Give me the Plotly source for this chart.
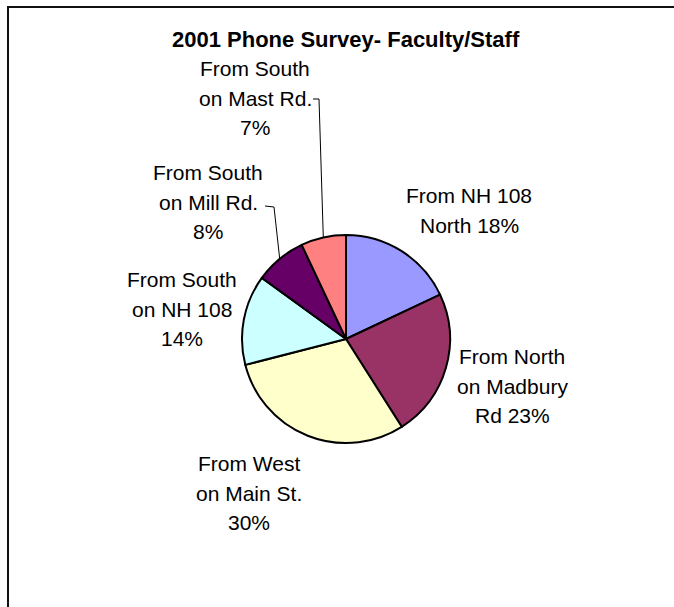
import math
import plotly.graph_objects as go

# Survey categories (clockwise from 12 o'clock) and their shares in percent
categories = [
    "From NH 108\nNorth",
    "From North\non Madbury\nRd",
    "From West\non Main St.",
    "From South\non NH 108",
    "From South\non Mill Rd.",
    "From South\non Mast Rd.",
]
shares = [18, 23, 30, 14, 8, 7]
pct_on_last_line = [True, True, False, False, False, False]
colors = ["#9999FF", "#993366", "#FFFFCC", "#CCFFFF", "#660066", "#FF8080"]
title = "2001 Phone Survey- Faculty/Staff"

W, H = 674, 607
CX, CY, R = 346, 339, 104          # pie centre / radius in pixels
FONT = "Arial, Liberation Sans, sans-serif"
LABEL_SIZE = 21
LINE_STEP = 29.5

# label anchor: centre x and baseline y of the first line
label_pos = [(469, 203), (512, 364), (249, 471), (182, 287), (208, 180), (255, 76)]
# leader lines start (end of the short horizontal tick next to the label)
leaders = {5: [(313, 99), (319, 99)], 4: [(265, 206), (274, 207)]}

fig = go.Figure()
fig.add_trace(go.Pie(
    values=shares,
    labels=[c.replace("\n", " ") for c in categories],
    sort=False,
    direction="clockwise",
    rotation=0,
    marker=dict(colors=colors, line=dict(color="#000000", width=2)),
    textinfo="none",
    hoverinfo="label+percent",
    showlegend=False,
    domain=dict(x=[(CX - R) / W, (CX + R) / W], y=[1 - (CY + R) / H, 1 - (CY - R) / H]),
))

annotations = []
annotations.append(dict(
    x=346, y=39, xref="x", yref="y", text="<b>" + title + "</b>", showarrow=False,
    font=dict(family=FONT, size=22, color="#000000"), xanchor="center", yanchor="middle",
))

for i, (cat, v) in enumerate(zip(categories, shares)):
    lines = cat.split("\n")
    if pct_on_last_line[i]:
        lines[-1] = f"{lines[-1]} {v}%"
    else:
        lines.append(f"{v}%")
    lx, ly = label_pos[i]
    for k, line in enumerate(lines):
        annotations.append(dict(
            x=lx, y=ly + k * LINE_STEP - 7.5, xref="x", yref="y", text=line,
            showarrow=False, font=dict(family=FONT, size=LABEL_SIZE, color="#000000"),
            xanchor="center", yanchor="middle",
        ))

shapes = []
# outer frame
shapes.append(dict(type="rect", xref="x", yref="y", x0=8, y0=7, x1=W + 20, y1=H + 20,
                   line=dict(color="#111111", width=2), fillcolor="rgba(0,0,0,0)"))

# leader lines end at the slice mid-angle on the rim
cum = 0
total = sum(shares)
mids = []
for v in shares:
    mids.append((cum + v / 2) / total * 360)
    cum += v
for idx, pts in leaders.items():
    ang = math.radians(mids[idx])
    ex, ey = CX + R * math.sin(ang), CY - R * math.cos(ang)
    path_pts = pts + [(ex, ey)]
    path = "M " + " L ".join(f"{x},{y}" for x, y in path_pts)
    shapes.append(dict(type="path", xref="x", yref="y", path=path,
                       line=dict(color="#000000", width=1)))

fig.update_layout(
    width=W, height=H,
    margin=dict(l=0, r=0, t=0, b=0),
    paper_bgcolor="#FFFFFF", plot_bgcolor="rgba(0,0,0,0)",
    xaxis=dict(range=[0, W], visible=False, fixedrange=True),
    yaxis=dict(range=[H, 0], visible=False, fixedrange=True),
    annotations=annotations,
    shapes=shapes,
)

fig.write_html("out.html")
